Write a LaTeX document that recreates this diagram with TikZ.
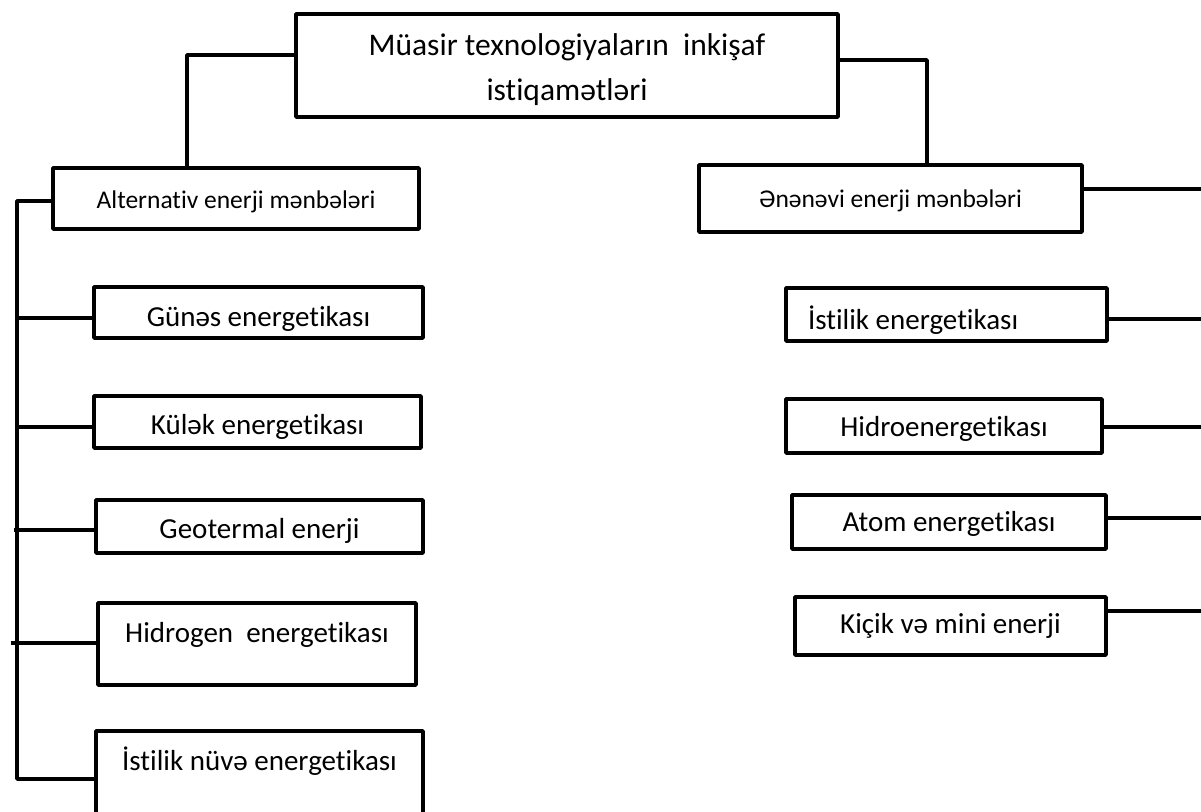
\documentclass[tikz,border=0pt]{standalone}
\usepackage{fontspec}
\setmainfont[RawFeature=-liga]{Carlito}

\begin{document}
\begin{tikzpicture}[x=1pt, y=-1pt,
    box/.style={draw, line width=3.5pt, line join=round, inner sep=0pt, anchor=base},
    big/.style={font=\fontsize{29}{45}\selectfont},
    small/.style={font=\fontsize{25.5}{30}\selectfont},
    link/.style={line width=3.5pt, line join=round}]
    \useasboundingbox (0,0) rectangle (1201,811);
    \clip (0,0) rectangle (1201,811);

    % Top
    \node[box, align=center, font=\fontsize{31.5}{45}\selectfont, minimum width=542, text height=86, text depth=17] (top) at (567,100) {Müasir texnologiyaların\ \ inkişaf\\istiqamətləri};

    % Alternative
    \node[box, small, minimum width=366, text height=40, text depth=21] (alt) at (236,208) {Alternativ enerji mənbələri};
    \node[box, big, minimum width=329, text height=39, text depth=12] (gun) at (258.5,326) {Günəs energetikası};
    \node[box, big, minimum width=327, text height=38, text depth=14] (kul) at (257.5,434) {Külək energetikası};
    \node[box, big, minimum width=327, text height=38, text depth=15] (geo) at (259.5,538) {Geotermal enerji};
    \node[box, big, minimum width=318, text height=39, text depth=43] (hid) at (257,642) {Hidrogen\ \ energetikası};
    \node[box, big, minimum width=327, text height=39, text depth=70] (nuv) at (259.5,770) {İstilik nüvə energetikası};

    % Traditional
    \node[box, small, minimum width=383, text height=42, text depth=25] (ene) at (890.5,207) {Ənənəvi enerji mənbələri};
    \node[box, big, align=flush left, text width=277, inner xsep=22, text height=41, text depth=12] (ist) at (946.5,329) {İstilik energetikası};
    \node[box, big, minimum width=316, text height=37, text depth=17] (hdr) at (944,436) {Hidroenergetikası};
    \node[box, big, minimum width=314, text height=36, text depth=18] (atm) at (949,531) {Atom energetikası};
    \node[box, big, minimum width=311, text height=36, text depth=22] (kic) at (950.5,633) {Kiçik və mini enerji};

    % Top links
    \coordinate (lbend) at (187,55);
    \coordinate (rbend) at (927,60);
    \draw[link] (top.west |- lbend) -| (lbend |- alt.north);
    \draw[link] (top.east |- rbend) -| (rbend |- ene.north);

    % Left spine
    \coordinate (spinetop) at (17,201);
    \coordinate (spinebot) at (17,779);
    \draw[link] (alt.west |- spinetop) -- (spinetop) -- (spinebot) -- (spinebot -| nuv.west);
    \draw[link] (17,318) -- (gun.west |- 0,318);
    \draw[link] (17,427) -- (kul.west |- 0,427);
    \draw[link] (14,530) -- (geo.west |- 0,530);
    \draw[link] (11,643) -- (hid.west |- 0,643);

    % Right ends
    \coordinate (eneend) at (1201,189);
    \coordinate (istend) at (1201,319);
    \coordinate (hdrend) at (1201,427);
    \coordinate (atmend) at (1201,518);
    \coordinate (kicend) at (1201,611);
    \draw[link] (ene.east |- eneend) -- (eneend);
    \draw[link] (ist.east |- istend) -- (istend);
    \draw[link] (hdr.east |- hdrend) -- (hdrend);
    \draw[link] (atm.east |- atmend) -- (atmend);
    \draw[link] (kic.east |- kicend) -- (kicend);
\end{tikzpicture}
\end{document}
